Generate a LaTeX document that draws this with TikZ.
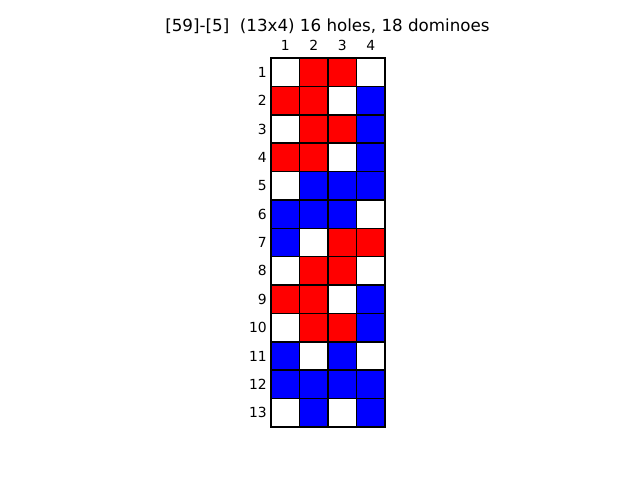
\documentclass[tikz,border=0pt]{standalone}
\usepackage{fontspec}
\setmainfont{DejaVu Sans}
\definecolor{dR}{RGB}{255,0,0}
\definecolor{dB}{RGB}{0,0,255}
\definecolor{dW}{RGB}{255,255,255}
\tikzset{
  cell/.style={draw=black, line width=1.5pt, minimum width=28.5pt, minimum height=28.38pt, inner sep=0pt, outer sep=0pt},
  lab/.style={font=\fontsize{13.9}{16}\selectfont, inner sep=0pt},
  ttl/.style={font=\fontsize{16.7}{19}\selectfont, inner sep=0pt}
}
\begin{document}
\begin{tikzpicture}[x=1pt,y=-1pt]
\useasboundingbox (0,0) rectangle (640,480);
\fill[white] (0,0) rectangle (640,480);
\node[ttl] (title) at (327.5,26) {[59]-[5]\ \ (13x4) 16 holes, 18 dominoes};
\foreach \c in {1,...,4} {
  \node[lab] (col\c) at ({271+28.5*(\c-0.5)},45) {\c};
}
\foreach \r/\row in {1/{W,R,R,W},2/{R,R,W,B},3/{W,R,R,B},4/{R,R,W,B},5/{W,B,B,B},6/{B,B,B,W},7/{B,W,R,R},8/{W,R,R,W},9/{R,R,W,B},10/{W,R,R,B},11/{B,W,B,W},12/{B,B,B,B},13/{W,B,W,B}} {
  \node[lab, anchor=east] (row\r) at (267,{58+28.385*(\r-0.5)}) {\r};
  \foreach \k [count=\c] in \row {
    \node[cell, fill=d\k] (cell-\r-\c) at ({271+28.5*(\c-0.5)},{58+28.385*(\r-0.5)}) {};
  }
}
\end{tikzpicture}
\end{document}
